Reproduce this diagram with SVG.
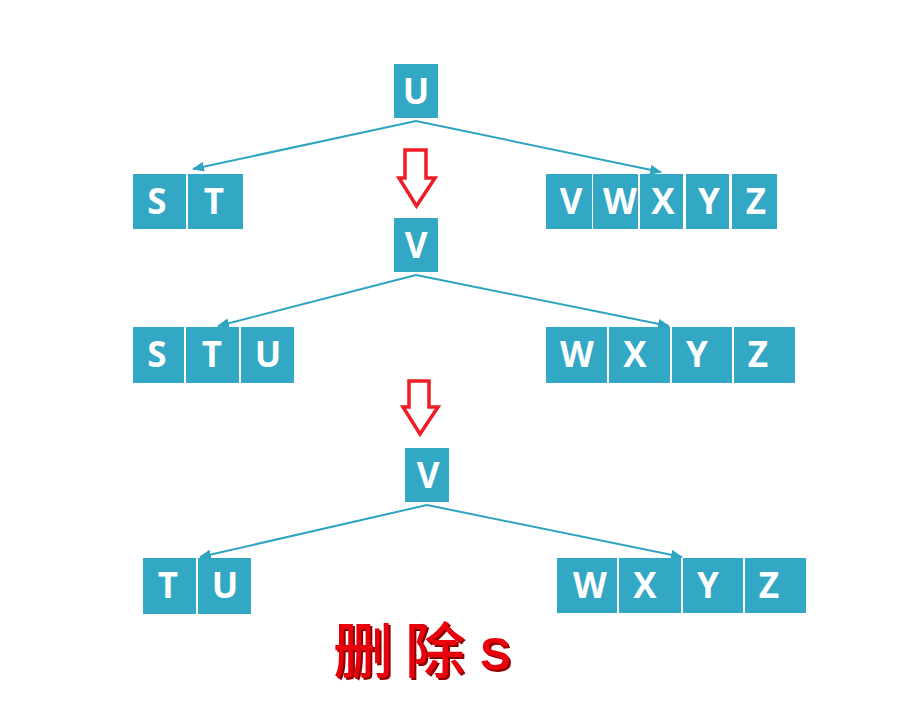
<svg xmlns="http://www.w3.org/2000/svg" width="919" height="725" viewBox="0 0 919 725">
<style>
.k{fill:#32a8c5}
.t{fill:#fff;font-family:"Open Sans","Liberation Sans",sans-serif;font-weight:bold;font-size:35px;text-anchor:middle}
.c{stroke:#2fa4c1;stroke-width:2;fill:none}
.ra{fill:#fff;stroke:#ee1c24;stroke-width:3.5;stroke-linejoin:miter}
.cn{font-family:"Noto Sans CJK SC",sans-serif;font-weight:500;font-size:60px}
.s{font-family:"Liberation Sans",Arial,sans-serif;font-weight:bold;font-size:46px}
</style>
<defs>
<marker id="ah" markerUnits="userSpaceOnUse" markerWidth="12" markerHeight="10" refX="11" refY="5" orient="auto">
<path d="M0,0 L12,5 L0,10 Z" fill="#2fa4c1"/>
</marker>
<filter id="sh" x="-10%" y="-10%" width="130%" height="130%">
<feDropShadow dx="2" dy="2" stdDeviation="0" flood-color="#8b0000" flood-opacity="1"/>
</filter>
</defs>
<rect width="919" height="725" fill="#fff"/>

<g id="connectors">
<path class="c" d="M416,121 L193,169" marker-end="url(#ah)"/>
<path class="c" d="M416,121 L661,172" marker-end="url(#ah)"/>
<path class="c" d="M416,275 L218,326" marker-end="url(#ah)"/>
<path class="c" d="M416,275 L669,326" marker-end="url(#ah)"/>
<path class="c" d="M427,505 L200,557" marker-end="url(#ah)"/>
<path class="c" d="M427,505 L682,557" marker-end="url(#ah)"/>
</g>

<g id="root1">
<rect class="k" x="394" y="64" width="44" height="54"/>
<text class="t" x="416" y="104">U</text>
</g>
<g id="left1">
<rect class="k" x="133" y="174" width="53" height="55"/>
<rect class="k" x="188" y="174" width="55" height="55"/>
<text class="t" x="157" y="214">S</text>
<text class="t" x="214" y="214">T</text>
</g>
<g id="right1">
<rect class="k" x="546" y="174" width="46" height="55"/>
<rect class="k" x="593" y="174" width="45" height="55"/>
<rect class="k" x="640" y="174" width="43" height="55"/>
<rect class="k" x="686" y="174" width="43" height="55"/>
<rect class="k" x="732" y="174" width="45" height="55"/>
<text class="t" x="571" y="214">V</text>
<text class="t" x="620" y="214">W</text>
<text class="t" x="663" y="214">X</text>
<text class="t" x="709" y="214">Y</text>
<text class="t" x="756" y="214">Z</text>
</g>

<g id="arrow1">
<polygon class="ra" points="405,150 426,150 426,178 435,178 416.5,206 399,178 405,178"/>
</g>

<g id="root2">
<rect class="k" x="394" y="218" width="44" height="54"/>
<text class="t" x="416" y="258">V</text>
</g>
<g id="left2">
<rect class="k" x="133" y="327" width="51" height="56"/>
<rect class="k" x="186" y="327" width="53" height="56"/>
<rect class="k" x="241" y="327" width="53" height="56"/>
<text class="t" x="157" y="367">S</text>
<text class="t" x="212" y="367">T</text>
<text class="t" x="268" y="367">U</text>
</g>
<g id="right2">
<rect class="k" x="546" y="327" width="61" height="56"/>
<rect class="k" x="609" y="327" width="61" height="56"/>
<rect class="k" x="672" y="327" width="60" height="56"/>
<rect class="k" x="734" y="327" width="61" height="56"/>
<text class="t" x="577" y="367">W</text>
<text class="t" x="635" y="367">X</text>
<text class="t" x="697" y="367">Y</text>
<text class="t" x="758" y="367">Z</text>
</g>

<g id="arrow2">
<polygon class="ra" points="409,381 429,381 429,407 438,407 420,434 403,407 409,407"/>
</g>

<g id="root3">
<rect class="k" x="405" y="448" width="44" height="54"/>
<text class="t" x="428" y="488">V</text>
</g>
<g id="left3">
<rect class="k" x="143" y="558" width="53" height="56"/>
<rect class="k" x="198" y="558" width="53" height="56"/>
<text class="t" x="168" y="598">T</text>
<text class="t" x="225" y="598">U</text>
</g>
<g id="right3">
<rect class="k" x="557" y="558" width="60" height="55"/>
<rect class="k" x="619" y="558" width="62" height="55"/>
<rect class="k" x="683" y="558" width="60" height="55"/>
<rect class="k" x="745" y="558" width="61" height="55"/>
<text class="t" x="590" y="598">W</text>
<text class="t" x="645" y="598">X</text>
<text class="t" x="708" y="598">Y</text>
<text class="t" x="769" y="598">Z</text>
</g>

<g id="caption" filter="url(#sh)">
<text y="673" fill="#e8000b"><tspan class="cn" x="333">删</tspan><tspan class="cn" x="405">除</tspan><tspan class="s" x="480" y="670">S</tspan></text>
</g>
</svg>
